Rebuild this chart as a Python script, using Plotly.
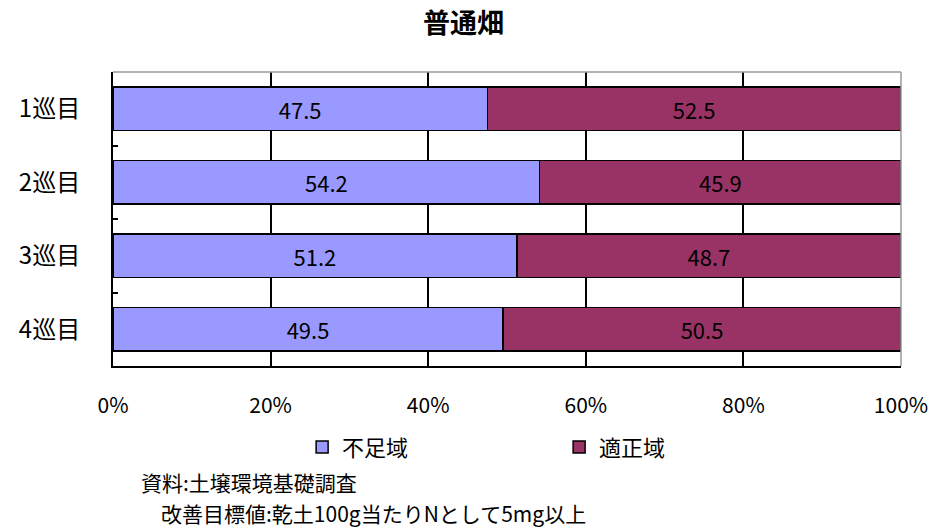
import plotly.graph_objects as go

categories = ["1巡目", "2巡目", "3巡目", "4巡目"]
shortage = [47.5, 54.2, 51.2, 49.5]
proper = [52.5, 45.9, 48.7, 50.5]
series_names = ["不足域", "適正域"]
tick_vals = [0, 20, 40, 60, 80, 100]
tick_text = ["0%", "20%", "40%", "60%", "80%", "100%"]
note_source = "資料:土壌環境基礎調査"
note_target = "改善目標値:乾土100g当たりNとして5mg以上"

FONT = "Noto Sans CJK JP"

fig = go.Figure()
fig.add_trace(go.Bar(
    y=categories, x=shortage, name=series_names[0], orientation="h",
    marker=dict(color="#9999FF", line=dict(color="black", width=1.5)),
    text=[f"{v:.1f}" for v in shortage], textposition="inside",
    insidetextanchor="middle", textfont=dict(color="black", size=22, family=FONT),
))
fig.add_trace(go.Bar(
    y=categories, x=proper, name=series_names[1], orientation="h",
    marker=dict(color="#993366", line=dict(color="black", width=1.5)),
    text=[f"{v:.1f}" for v in proper], textposition="inside",
    insidetextanchor="middle", textfont=dict(color="black", size=22, family=FONT),
))

fig.update_layout(
    width=946, height=528,
    barmode="stack", barnorm="percent", bargap=0.41,
    paper_bgcolor="white", plot_bgcolor="white",
    margin=dict(l=113, r=45, t=72, b=162),
    font=dict(family=FONT, size=21, color="black"),
    title=dict(text="<b>普通畑</b>", x=0.49, xref="container", xanchor="center",
               y=0.955, yanchor="middle", font=dict(size=27, family=FONT)),
    showlegend=True,
    legend=dict(orientation="h", x=0.24, xanchor="left", y=-0.276, yanchor="middle",
                entrywidth=212, entrywidthmode="pixels", traceorder="normal",
                font=dict(size=22, family=FONT), itemclick=False),
    xaxis=dict(range=[0, 100], tickvals=tick_vals, ticktext=tick_text,
               showgrid=True, gridcolor="black", gridwidth=1.5,
               showline=True, linecolor="black", linewidth=2,
               ticks="", ticklabelstandoff=20, zeroline=False,
               tickfont=dict(size=21, family=FONT)),
    yaxis=dict(autorange="reversed", showgrid=False, showline=True,
               linecolor="black", linewidth=2, ticks="inside", ticklen=5,
               tickcolor="black", tickwidth=1.5, tickson="boundaries",
               ticklabelstandoff=26, tickfont=dict(size=24, family=FONT)),
    annotations=[
        dict(text=note_source, xref="paper", yref="paper",
             x=0.0343, y=-0.3946, xanchor="left", yanchor="middle",
             showarrow=False, borderpad=0, font=dict(size=21, family=FONT)),
        dict(text=note_target, xref="paper", yref="paper",
             x=0.0596, y=-0.4983, xanchor="left", yanchor="middle",
             showarrow=False, borderpad=0, font=dict(size=21, family=FONT)),
    ],
    shapes=[
        dict(type="line", xref="paper", yref="paper", x0=0, x1=1, y0=1, y1=1,
             line=dict(color="#999999", width=1.5)),
        dict(type="line", xref="paper", yref="paper", x0=1, x1=1, y0=0, y1=1,
             line=dict(color="#999999", width=1.5)),
    ],
)

fig.write_html("out.html", config={"displayModeBar": False},
               post_script="document.body.style.margin='0px';document.body.style.overflow='hidden';")
